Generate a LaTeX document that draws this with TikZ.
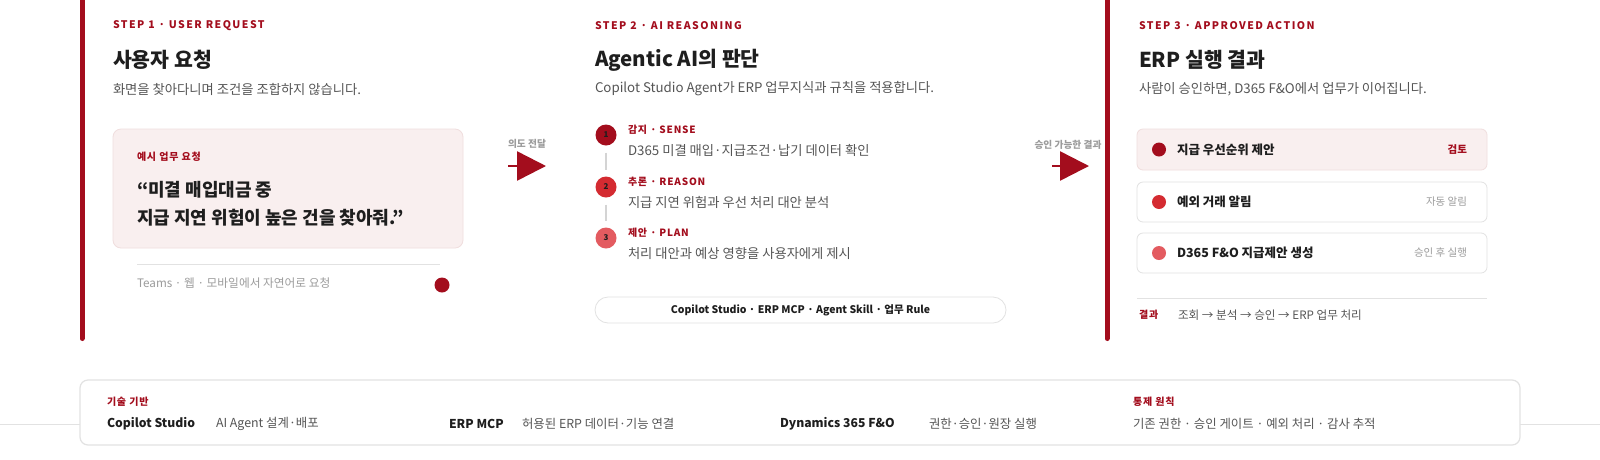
\documentclass[tikz,border=0pt]{standalone}
\usepackage{fontspec}
\setmainfont{Noto Sans CJK KR}
\newfontfamily\spc[LetterSpace=14]{Noto Sans CJK KR}
\newfontfamily\spcs[LetterSpace=8]{Noto Sans CJK KR}
\usetikzlibrary{arrows.meta}
\definecolor{dred}{HTML}{A30D1D}
\definecolor{red2}{HTML}{D42B31}
\definecolor{red3}{HTML}{E35B60}
\definecolor{ink}{HTML}{1E1E1E}
\definecolor{txt}{HTML}{555555}
\definecolor{mute}{HTML}{9C9C9C}
\definecolor{pink}{HTML}{F9EFEF}
\definecolor{pinkln}{HTML}{F0DEDE}
\definecolor{ln}{HTML}{E2E2E2}
\definecolor{conn}{HTML}{D4D4D4}
\begin{document}
\begin{tikzpicture}[x=1pt,y=-1pt,
  every node/.style={inner sep=0pt,outer sep=0pt},
  steplbl/.style={anchor=west,text=dred,font={\spc\bfseries\fontsize{10.5}{12}\selectfont}},
  ttl/.style={anchor=west,text=ink,font={\bfseries\fontsize{20.5}{23}\selectfont}},
  sub/.style={anchor=west,text=txt,font={\fontsize{13.3}{16}\selectfont}},
  minilbl/.style={anchor=west,text=dred,font={\spcs\bfseries\fontsize{10}{12}\selectfont}},
  quote/.style={anchor=west,text=ink,font={\bfseries\fontsize{18}{21}\selectfont}},
  desc/.style={anchor=west,text=txt,font={\fontsize{13.3}{16}\selectfont}},
  mutetxt/.style={anchor=west,text=mute,font={\fontsize{11.7}{14}\selectfont}},
  arrowlbl/.style={text=mute,font={\bfseries\fontsize{9.7}{11}\selectfont}},
  flow/.style={draw=dred,line width=2.5pt,-{Triangle[length=29pt,width=29pt]}},
  bar/.style={draw=dred,line width=5pt,line cap=round},
  stepdot/.style={circle,minimum size=21pt,text=ink,font={\bfseries\fontsize{8}{9}\selectfont}},
  card/.style={anchor=north west,rounded corners=6pt,draw=ln,fill=white,line width=0.8pt},
  itemtxt/.style={anchor=west,text=ink,font={\bfseries\fontsize{12.5}{15}\selectfont}},
  tag/.style={anchor=east,text=mute,font={\fontsize{10.5}{12}\selectfont}},
  bold13/.style={anchor=west,text=ink,font={\bfseries\fontsize{12.2}{15}\selectfont}},
  reg12/.style={anchor=west,text=txt,font={\fontsize{12.4}{14}\selectfont}},
  thin/.style={draw=ln,line width=1pt},
]
\useasboundingbox[fill=white] (0,0) rectangle (1600,459);

% faint base line
\coordinate (hl) at (0,424);
\coordinate (hr) at (1600,424);
\draw[thin] (hl) -- (hr);

% vertical bars
\coordinate (b1t) at (82,-5);
\coordinate (b1b) at (82,338.5);
\coordinate (b2t) at (1107,-5);
\coordinate (b2b) at (1107,338.5);
\draw[bar] (b1t) -- (b1b);
\draw[bar] (b2t) -- (b2b);

% ---------- STEP 1 ----------
\node[steplbl] (s1lbl) at (113,25.5) {STEP 1 · USER REQUEST};
\node[ttl] (s1ttl) at (113,60) {사용자 요청};
\node[sub] (s1sub) at (113,89) {화면을 찾아다니며 조건을 조합하지 않습니다.};

\node[anchor=north west,rounded corners=8pt,draw=pinkln,fill=pink,line width=0.8pt,
      minimum width=350pt,minimum height=119pt] (ex) at (113,129) {};
\node[minilbl] (exlbl) at (137,157) {예시 업무 요청};
\node[quote] (q1) at (137,190) {“미결 매입대금 중};
\node[quote] (q2) at (137,217.5) {지급 지연 위험이 높은 건을 찾아줘.”};
\coordinate (sep1a) at (137,264);
\coordinate (sep1b) at (440,264);
\draw[thin] (sep1a) -- (sep1b);
\node[mutetxt] (teams) at (137,283) {Teams · 웹 · 모바일에서 자연어로 요청};
\node[circle,fill=dred,minimum size=15pt] (dot1) at (442,285) {};

% arrow 1
\node[arrowlbl] (a1lbl) at (527,144) {의도 전달};
\coordinate (a1s) at (508,166);
\coordinate (a1e) at (546,166);
\draw[flow] (a1s) -- (a1e);

% ---------- STEP 2 ----------
\node[steplbl] (s2lbl) at (595,25.5) {STEP 2 · AI REASONING};
\node[ttl] (s2ttl) at (595,60) {Agentic AI의 판단};
\node[sub] (s2sub) at (595,89) {Copilot Studio Agent가 ERP 업무지식과 규칙을 적용합니다.};

\node[stepdot,fill=dred] (c1) at (606,135) {1};
\node[stepdot,fill=red2] (c2) at (606,187) {2};
\node[stepdot,fill=red3] (c3) at (606,238) {3};
\draw[draw=conn,line width=1.2pt,shorten <=7pt,shorten >=7pt] (c1) -- (c2);
\draw[draw=conn,line width=1.2pt,shorten <=7pt,shorten >=7pt] (c2) -- (c3);

\node[minilbl] (l1) at (628,130) {감지 · SENSE};
\node[desc] (d1) at (628,150) {D365 미결 매입·지급조건·납기 데이터 확인};
\node[minilbl] (l2) at (628,182) {추론 · REASON};
\node[desc] (d2) at (628,202) {지급 지연 위험과 우선 처리 대안 분석};
\node[minilbl] (l3) at (628,233) {제안 · PLAN};
\node[desc] (d3) at (628,253) {처리 대안과 예상 영향을 사용자에게 제시};

\node[anchor=north west,rounded corners=13pt,draw=ln,fill=white,line width=0.8pt,
      minimum width=411pt,minimum height=26pt] (pill) at (595,297) {};
\node[text=ink,font={\bfseries\fontsize{10.5}{13}\selectfont}] (pilltxt) at (pill.center)
  {Copilot Studio · ERP MCP · Agent Skill · 업무 Rule};

% arrow 2
\node[arrowlbl] (a2lbl) at (1068,145) {승인 가능한 결과};
\coordinate (a2s) at (1052,166);
\coordinate (a2e) at (1089,166);
\draw[flow] (a2s) -- (a2e);

% ---------- STEP 3 ----------
\node[steplbl] (s3lbl) at (1139,25.5) {STEP 3 · APPROVED ACTION};
\node[ttl] (s3ttl) at (1139,60) {ERP 실행 결과};
\node[sub] (s3sub) at (1139,89) {사람이 승인하면, D365 F\&O에서 업무가 이어집니다.};

\node[card,draw=pinkln,fill=pink,minimum width=350pt,minimum height=41pt] (r1) at (1137,129) {};
\node[card,minimum width=350pt,minimum height=40pt] (r2) at (1137,182) {};
\node[card,minimum width=350pt,minimum height=40pt] (r3) at (1137,233) {};
\node[circle,fill=dred,minimum size=14pt] (rd1) at (1159,149.5) {};
\node[circle,fill=red2,minimum size=14pt] (rd2) at (1159,202) {};
\node[circle,fill=red3,minimum size=14pt] (rd3) at (1159,253) {};
\node[itemtxt] (rt1) at (1177,149.5) {지급 우선순위 제안};
\node[itemtxt] (rt2) at (1177,202) {예외 거래 알림};
\node[itemtxt] (rt3) at (1177,253) {D365 F\&O 지급제안 생성};
\node[tag,text=dred,font={\bfseries\fontsize{10.5}{12}\selectfont}] (rg1) at (1467,149.5) {검토};
\node[tag] (rg2) at (1467,202) {자동 알림};
\node[tag] (rg3) at (1467,253) {승인 후 실행};

\coordinate (sep3a) at (1137,298);
\coordinate (sep3b) at (1487,298);
\draw[thin] (sep3a) -- (sep3b);
\node[minilbl] (reslbl) at (1139,315) {결과};
\node[reg12,font={\fontsize{11.6}{14}\selectfont}] (restxt) at (1178,315) {조회 → 분석 → 승인 → ERP 업무 처리};

% ---------- bottom box ----------
\node[anchor=north west,rounded corners=8pt,draw=ln,fill=white,line width=1.2pt,
      minimum width=1440pt,minimum height=65pt] (base) at (80,380) {};
\node[minilbl] (bl1) at (107,402) {기술 기반};
\node[bold13] (bt1) at (107,424) {Copilot Studio};
\node[reg12] (bd1) at (216,424) {AI Agent 설계·배포};
\node[bold13] (bt2) at (449,424) {ERP MCP};
\node[reg12] (bd2) at (522,424) {허용된 ERP 데이터·기능 연결};
\node[bold13] (bt3) at (780,424) {Dynamics 365 F\&O};
\node[reg12] (bd3) at (929,424) {권한·승인·원장 실행};
\node[minilbl] (bl2) at (1133,402) {통제 원칙};
\node[reg12] (bd4) at (1133,424) {기존 권한 · 승인 게이트 · 예외 처리 · 감사 추적};
\end{tikzpicture}
\end{document}
